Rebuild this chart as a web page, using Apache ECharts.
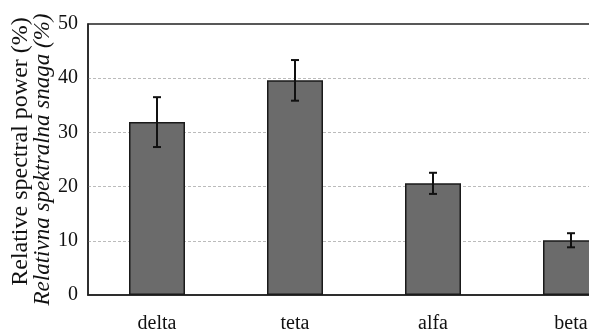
<!DOCTYPE html>
<html>
<head>
<meta charset="utf-8">
<script src="https://cdn.jsdelivr.net/npm/echarts@6/dist/echarts.min.js"></script>
<style>html,body{margin:0;padding:0;background:#fff;}#c{width:589px;height:331px;}</style>
</head>
<body>
<div id="c"></div>
<script>
const categories = ['delta', 'teta', 'alfa', 'beta'];
const meanValues = [31.9, 39.6, 20.6, 10.1];
const errorValues = [4.6, 3.75, 1.95, 1.3];
const yTicks = [0, 10, 20, 30, 40, 50];

const errData = categories.map((c, i) => [i, meanValues[i] - errorValues[i], meanValues[i] + errorValues[i]]);

const chart = echarts.init(document.getElementById('c'), null, {renderer: 'canvas'});
const serif = '"Liberation Serif", "DejaVu Serif", serif';
chart.setOption({
  animation: false,
  grid: {left: 88, top: 24, bottom: 36, width: 552, containLabel: false, outerBoundsMode: 'none',
         show: true, borderColor: '#222', borderWidth: 1.5, backgroundColor: 'transparent'},
  xAxis: {
    type: 'category', data: categories,
    axisLine: {show: true, lineStyle: {color: '#222', width: 1.5}},
    axisTick: {show: false},
    axisLabel: {fontFamily: serif, fontSize: 20, color: '#111', margin: 19}
  },
  yAxis: {
    type: 'value', min: yTicks[0], max: yTicks[yTicks.length - 1], interval: 10,
    axisLine: {show: true, lineStyle: {color: '#222', width: 1.5}},
    axisTick: {show: false},
    axisLabel: {fontFamily: serif, fontSize: 20, color: '#111', margin: 10},
    splitLine: {show: true, showMinLine: false, showMaxLine: false, lineStyle: {color: '#bbb', type: [3, 2], width: 1}},
    name: '{a|Relative spectral power (%)}\n{b|Relativna spektralna snaga (%)}',
    nameLocation: 'middle', nameGap: 34, nameRotate: 90, nameMoveOverlap: false,
    nameTextStyle: {
      rich: {
        a: {fontFamily: serif, fontSize: 24, color: '#111', lineHeight: 22, padding: [0, 0, 0, 16]},
        b: {fontFamily: serif, fontSize: 23, fontStyle: 'italic', color: '#111', lineHeight: 22}
      }
    }
  },
  series: [
    {
      type: 'bar', data: meanValues, barWidth: 56,
      itemStyle: {color: '#6b6b6b', borderColor: '#1a1a1a', borderWidth: 1.5}
    },
    {
      type: 'custom', data: errData, z: 10,
      renderItem: function (params, api) {
        const x = api.value(0);
        const lo = api.coord([x, api.value(1)]);
        const hi = api.coord([x, api.value(2)]);
        const w = 4;
        const st = {stroke: '#111', lineWidth: 2};
        return {
          type: 'group',
          children: [
            {type: 'line', shape: {x1: hi[0], y1: hi[1], x2: lo[0], y2: lo[1]}, style: st},
            {type: 'line', shape: {x1: hi[0] - w, y1: hi[1], x2: hi[0] + w, y2: hi[1]}, style: st},
            {type: 'line', shape: {x1: lo[0] - w, y1: lo[1], x2: lo[0] + w, y2: lo[1]}, style: st}
          ]
        };
      }
    }
  ]
});
</script>
</body>
</html>
